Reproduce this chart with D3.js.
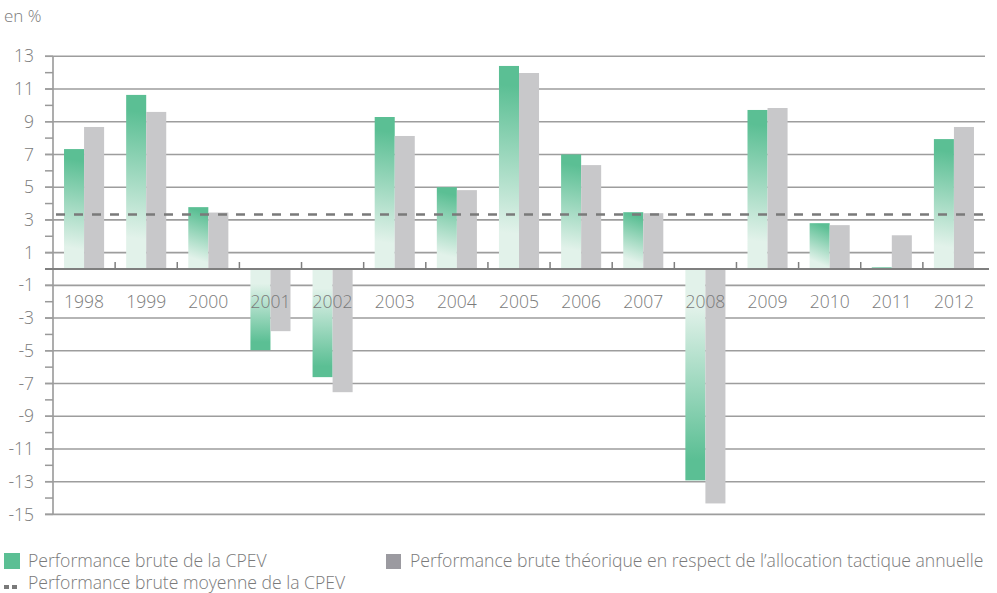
<!DOCTYPE html>
<html>
<head>
<meta charset="utf-8">
<script src="https://cdn.jsdelivr.net/npm/d3@7"></script>
<style>
  body { margin: 0; background: #fff; }
  svg text { font-family: "Open Sans", sans-serif; font-weight: 300; fill: #7a7a7a; }
</style>
</head>
<body>
<div id="chart"></div>
<script>
// data
var years = ["1998","1999","2000","2001","2002","2003","2004","2005","2006","2007","2008","2009","2010","2011","2012"];
var cpev    = [7.33, 10.64, 3.78, -4.96, -6.61, 9.29, 5.0, 12.41, 7.0, 3.47, -12.92, 9.72, 2.8, 0.1, 7.94];
var tactique = [8.68, 9.6, 3.45, -3.8, -7.53, 8.13, 4.82, 11.98, 6.35, 3.41, -14.33, 9.84, 2.68, 2.06, 8.68];
var moyenne = 3.33;
var yTicks = [-15,-13,-11,-9,-7,-5,-3,-1,1,3,5,7,9,11,13];
var yMinor = d3.range(-15, 14, 1);
var seriesNames = ["cpev", "tactique"];
var legendLabels = ["Performance brute de la CPEV",
  "Performance brute théorique en respect de l\u2019allocation tactique annuelle",
  "Performance brute moyenne de la CPEV"];

var W = 997, H = 593;
var plotLeft = 53, plotRight = 985, plotTop = 56.3, plotBottom = 514.4;

var svg = d3.select("#chart").append("svg")
  .attr("width", W)
  .attr("height", H);

var defs = svg.append("defs");

var x = d3.scaleBand()
  .domain(years)
  .range([plotLeft, plotRight])
  .paddingInner(0.355)
  .paddingOuter(0.1775);

var x1 = d3.scaleBand()
  .domain(seriesNames)
  .range([0, x.bandwidth()]);

var y = d3.scaleLinear()
  .domain([-15, 13])
  .range([plotBottom, plotTop]);

var rows = years.map(function(yr, i) {
  return {year: yr, cpev: cpev[i], tactique: tactique[i], i: i};
});

// y axis line + ticks
svg.append("line")
  .attr("x1", plotLeft).attr("x2", plotLeft)
  .attr("y1", plotTop).attr("y2", plotBottom)
  .attr("stroke", "#999").attr("stroke-width", 1.6);

svg.append("g").selectAll("line")
  .data(yMinor)
  .enter().append("line")
    .attr("x1", plotLeft - 8).attr("x2", plotLeft)
    .attr("y1", d => y(d)).attr("y2", d => y(d))
    .attr("stroke", "#999").attr("stroke-width", 1.5);

// gridlines
svg.append("g").selectAll("line")
  .data(yTicks)
  .enter().append("line")
    .attr("x1", plotLeft - 8).attr("x2", plotRight)
    .attr("y1", d => y(d)).attr("y2", d => y(d))
    .attr("stroke", "#9d9d9d").attr("stroke-width", 1.6);

svg.append("g").selectAll("text")
  .data(yTicks)
  .enter().append("text")
    .attr("x", 34)
    .attr("y", d => y(d))
    .attr("dy", "0.35em")
    .attr("text-anchor", "end")
    .style("font-size", "17.5px")
    .text(d => d);

// gradients, one per green bar (dark at the value end)
rows.forEach(function(d) {
  var x0 = x(d.year) + x1("cpev"), w = x1.bandwidth();
  var yv = y(d.cpev), y0 = y(0);
  var h = Math.abs(y0 - yv);
  var dir = d.cpev >= 0 ? 1 : -1;
  var len = Math.max(h, 40);
  var g = defs.append("linearGradient")
    .attr("id", "grad" + d.i)
    .attr("gradientUnits", "userSpaceOnUse")
    .attr("x1", d.cpev >= 0 ? x0 + w : x0).attr("y1", yv)
    .attr("x2", x0).attr("y2", yv + dir * len);
  g.append("stop").attr("offset", 0).attr("stop-color", "#5bbf94");
  g.append("stop").attr("offset", 0.1).attr("stop-color", "#5bbf94");
  g.append("stop").attr("offset", 0.82).attr("stop-color", "#e2f2ea");
  g.append("stop").attr("offset", 1).attr("stop-color", "#e2f2ea");
});

svg.append("g").selectAll("rect")
  .data(rows)
  .enter().append("rect")
    .attr("x", d => x(d.year) + x1("cpev"))
    .attr("y", d => y(Math.max(0, d.cpev)))
    .attr("width", x1.bandwidth())
    .attr("height", d => Math.abs(y(d.cpev) - y(0)))
    .attr("fill", d => "url(#grad" + d.i + ")");

svg.append("g").selectAll("rect")
  .data(rows)
  .enter().append("rect")
    .attr("x", d => x(d.year) + x1("tactique"))
    .attr("y", d => y(Math.max(0, d.tactique)))
    .attr("width", x1.bandwidth())
    .attr("height", d => Math.abs(y(d.tactique) - y(0)))
    .attr("fill", "#c8c8ca");

// zero line and category ticks
svg.append("line")
  .attr("x1", plotLeft - 8).attr("x2", 989)
  .attr("y1", y(0)).attr("y2", y(0))
  .attr("stroke", "#7f7f7f").attr("stroke-width", 2.2);

svg.append("g").selectAll("line")
  .data(years.slice(1))
  .enter().append("line")
    .attr("x1", d => x(d) - x.step() * x.paddingInner() / 2)
    .attr("x2", d => x(d) - x.step() * x.paddingInner() / 2)
    .attr("y1", y(0) - 7).attr("y2", y(0))
    .attr("stroke", "#7f7f7f").attr("stroke-width", 1.5);

// average
svg.append("line")
  .attr("x1", plotLeft).attr("x2", 989)
  .attr("y1", y(moyenne)).attr("y2", y(moyenne))
  .attr("stroke", "#7a7a7a").attr("stroke-width", 2.6)
  .attr("stroke-dasharray", "9,9")
  .attr("stroke-dashoffset", -3);

// x labels
svg.append("g").selectAll("text")
  .data(years)
  .enter().append("text")
    .attr("x", d => x(d) + x.bandwidth() / 2)
    .attr("y", 307.5)
    .attr("text-anchor", "middle")
    .style("font-size", "17.5px")
    .text(d => d);

// unit
svg.append("text")
  .attr("x", 4).attr("y", 21.5)
  .style("font-size", "17px")
  .text("en %");

// legend
svg.append("rect").attr("x", 4).attr("y", 553).attr("width", 16).attr("height", 16).attr("fill", "#5bbf94");
svg.append("text").attr("x", 28).attr("y", 567).style("font-size", "17.6px").text(legendLabels[0]);
svg.append("rect").attr("x", 386).attr("y", 554).attr("width", 15).attr("height", 15).attr("fill", "#9b9aa0");
svg.append("text").attr("x", 410).attr("y", 567).style("font-size", "17.6px").text(legendLabels[1]);
svg.append("rect").attr("x", 4).attr("y", 585).attr("width", 5).attr("height", 4).attr("fill", "#7a7a7a");
svg.append("rect").attr("x", 12).attr("y", 585).attr("width", 5).attr("height", 4).attr("fill", "#7a7a7a");
svg.append("text").attr("x", 28).attr("y", 589).style("font-size", "17.6px").text(legendLabels[2]);
</script>
</body>
</html>
